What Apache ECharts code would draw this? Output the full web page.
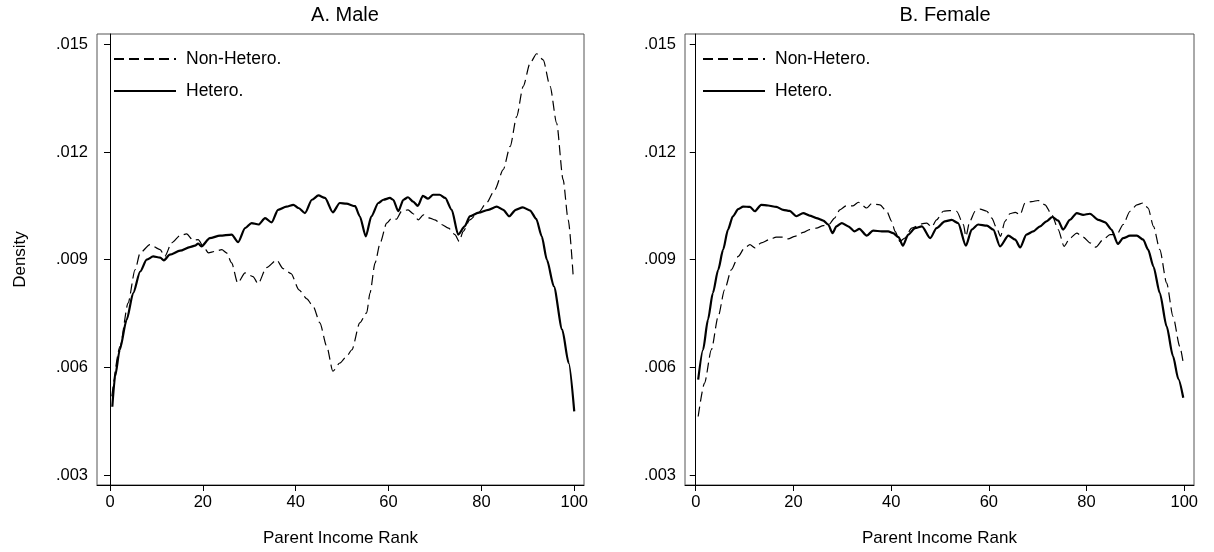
<!DOCTYPE html>
<html>
<head>
<meta charset="utf-8">
<script src="https://cdn.jsdelivr.net/npm/echarts@6/dist/echarts.min.js"></script>
<style>
html,body{margin:0;padding:0;background:#fff;}
#chart{width:1214px;height:552px;}
</style>
</head>
<body>
<div id="chart"></div>
<script>
// ---- data ----
const panelTitles = ['A. Male', 'B. Female'];
const seriesNames = ['Non-Hetero.', 'Hetero.'];
const xTicks = [0, 20, 40, 60, 80, 100];
const yTicks = [0.003, 0.006, 0.009, 0.012, 0.015];

const maleHeteroX = [0.5,1.1,2.1,3.6,5.0,6.5,7.9,9.3,10.8,11.6,12.9,15.1,17.2,18.3,19.0,19.7,21.5,23.7,26.2,27.6,29.1,30.5,32.0,33.4,34.8,36.2,38.0,39.5,40.6,42.0,43.5,44.9,46.3,48.0,49.5,50.9,52.8,53.8,55.1,56.3,57.8,58.9,60.3,61.0,62.1,63.2,64.2,65.3,66.3,67.4,68.5,69.6,71.0,72.2,73.6,75.0,76.4,77.5,79.4,81.5,83.3,84.7,86.0,87.4,88.9,90.5,91.8,93.0,94.1,95.6,97.4,98.8,100];
const maleHeteroY = [0.0049,0.00575,0.00649,0.00733,0.00807,0.00867,0.0090,0.00909,0.00906,0.00898,0.00914,0.00925,0.00935,0.00939,0.00945,0.00937,0.00960,0.00967,0.00970,0.00949,0.00988,0.01002,0.00998,0.01016,0.01004,0.01039,0.01048,0.01053,0.01044,0.01030,0.01067,0.01079,0.01072,0.01032,0.01058,0.01056,0.01049,0.01021,0.00965,0.01021,0.01058,0.01067,0.01072,0.01067,0.01035,0.01067,0.01074,0.01062,0.01050,0.01078,0.01070,0.01081,0.01081,0.01072,0.01039,0.00970,0.00993,0.01021,0.01031,0.01039,0.01048,0.01039,0.01021,0.01039,0.01046,0.01037,0.01014,0.00965,0.0090,0.00826,0.00705,0.00612,0.00477];

const maleNonX = [0.4,2.15,3.9,5.4,6.5,8.6,10.8,11.8,13.3,15.1,16.5,17.9,19.0,20.1,21.2,22.6,24.1,25.1,26.2,27.5,29.1,30.8,31.9,33.7,35.9,37.3,39.0,40.7,42.4,43.8,45.2,46.7,48.0,49.5,51.0,52.1,53.8,55.3,56.0,57.1,58.2,59.6,60.7,61.7,62.8,64.2,65.3,66.4,67.5,68.9,70.0,71.4,72.9,74.3,75.2,76.1,77.5,79.3,81.1,82.9,84.7,86.2,87.6,89.0,90.5,91.9,93.3,94.8,96.2,97.6,98.7,99.8];
const maleNonY = [0.00519,0.00658,0.00779,0.00872,0.00919,0.00942,0.00928,0.00909,0.00947,0.00967,0.00972,0.00954,0.00956,0.00937,0.00919,0.00923,0.00928,0.00919,0.00891,0.00835,0.00863,0.00853,0.00833,0.00878,0.00899,0.00875,0.00861,0.00816,0.00791,0.00769,0.00724,0.00658,0.00589,0.00612,0.00631,0.00649,0.00724,0.00752,0.00807,0.00891,0.00947,0.01002,0.01016,0.01013,0.01035,0.01039,0.01028,0.01011,0.01025,0.01016,0.01011,0.00998,0.00988,0.00970,0.00951,0.00979,0.01011,0.01030,0.01058,0.01095,0.01151,0.01216,0.01299,0.01383,0.01448,0.01474,0.01457,0.01383,0.01281,0.01123,0.01011,0.00849];

const femaleHeteroX = [0.5,1.5,2.5,3.5,4.6,5.6,6.6,7.6,8.7,9.7,11.1,12.1,13.4,14.8,16.5,17.9,19.2,20.6,22.0,23.3,24.7,26.1,27.1,28.0,28.8,29.9,31.2,32.5,33.5,35.0,36.3,38.1,39.4,40.4,41.5,42.4,43.5,44.9,46.3,48.0,49.3,51.0,52.4,53.7,55.3,56.5,57.8,59.6,60.9,62.3,64.0,65.4,66.4,67.7,69.1,70.5,71.8,73.0,74.2,75.2,76.6,78.0,79.3,80.7,82.4,83.8,85.1,86.4,87.5,88.9,90.3,91.6,92.6,93.7,95.0,96.4,97.7,98.8,99.8];
const femaleHeteroY = [0.00566,0.00649,0.00733,0.00807,0.00872,0.00928,0.00984,0.01021,0.01041,0.01048,0.01047,0.01035,0.01053,0.01051,0.01047,0.01039,0.01036,0.01021,0.01030,0.01023,0.01016,0.01009,0.00998,0.00974,0.00993,0.01002,0.00993,0.00979,0.00986,0.00967,0.00981,0.00979,0.00979,0.00974,0.00963,0.00939,0.00970,0.00988,0.00993,0.00960,0.00988,0.01007,0.01011,0.01002,0.00939,0.00984,0.00998,0.00995,0.00984,0.00937,0.00967,0.00956,0.00934,0.00970,0.00979,0.00993,0.01007,0.01019,0.01009,0.00984,0.01011,0.01030,0.01025,0.01028,0.01011,0.01004,0.00984,0.00944,0.00960,0.00967,0.00967,0.00956,0.00928,0.00881,0.00807,0.00714,0.00631,0.00567,0.00515];

const femaleNonX = [0.5,1.8,3.2,4.6,5.9,7.3,8.7,10.0,11.1,12.1,13.4,15.1,16.5,17.9,18.9,20.3,22.0,23.3,24.7,26.1,27.4,28.4,29.5,30.8,32.2,33.3,35.0,36.0,37.7,39.1,40.1,40.8,41.8,42.8,44.2,46.3,47.3,48.3,49.3,50.7,52.0,53.4,54.8,55.3,56.1,57.2,58.2,59.6,60.6,61.6,62.4,63.3,64.3,65.4,66.4,67.4,68.8,70.1,71.5,72.9,74.2,75.4,76.6,78.0,79.3,80.7,81.9,83.4,84.8,86.2,87.5,88.9,90.3,91.6,92.6,93.7,95.0,96.4,97.7,99.1,99.8];
const femaleNonY = [0.00463,0.00556,0.00649,0.00742,0.00816,0.00872,0.00909,0.00933,0.00942,0.00933,0.00947,0.00956,0.00963,0.00963,0.00958,0.00965,0.00976,0.00984,0.00988,0.00995,0.01000,0.01016,0.01039,0.01050,0.01050,0.01060,0.01044,0.01056,0.01053,0.01035,0.01007,0.00979,0.00951,0.00960,0.00988,0.01000,0.01002,0.00991,0.01011,0.01035,0.01037,0.01035,0.00998,0.00965,0.01007,0.01035,0.01041,0.01035,0.01016,0.00988,0.00965,0.01007,0.01028,0.01032,0.01025,0.01058,0.01062,0.01065,0.01053,0.01025,0.00984,0.00937,0.00960,0.00974,0.00963,0.00947,0.00935,0.00956,0.00970,0.00970,0.00998,0.01035,0.01053,0.01058,0.01044,0.00993,0.00928,0.00835,0.00742,0.00658,0.00612];

// ---- build chart ----
const FONT = '"Liberation Sans", Arial, Helvetica, sans-serif';
const zip = (xs, ys) => xs.map((x, i) => [x, ys[i]]);

const grids = [
  {left: 97, top: 34, width: 487, height: 451},
  {left: 685, top: 34, width: 509, height: 451}
];
const xRanges = [[-2.8, 102.1], [-2.2, 102.0]];

function xAxis(i) {
  return {
    type: 'value', gridIndex: i, min: xRanges[i][0], max: xRanges[i][1],
    name: 'Parent Income Rank', nameLocation: 'middle', nameGap: 45,
    nameTextStyle: {fontFamily: FONT, fontSize: 17, color: '#000'},
    axisLine: {show: true, lineStyle: {color: '#000', width: 1}},
    axisTick: {show: true, inside: false, length: 6, lineStyle: {color: '#000'}, customValues: xTicks},
    axisLabel: {show: true, margin: 9, fontFamily: FONT, fontSize: 16.5, color: '#000', customValues: xTicks,
      formatter: v => String(Math.round(v))},
    splitLine: {show: false}
  };
}
function yAxis(i) {
  return {
    type: 'value', gridIndex: i, min: 0.00272, max: 0.01529,
    name: i === 0 ? 'Density' : '', nameLocation: 'middle', nameGap: 68,
    nameTextStyle: {fontFamily: FONT, fontSize: 17, color: '#000'},
    axisLine: {show: true, lineStyle: {color: '#000', width: 1}},
    axisTick: {show: true, inside: false, length: 6, lineStyle: {color: '#000'}, customValues: yTicks},
    axisLabel: {show: true, margin: 9, fontFamily: FONT, fontSize: 16.5, color: '#000', customValues: yTicks,
      formatter: v => v.toFixed(3).replace(/^0/, '')},
    splitLine: {show: false}
  };
}

const dashStyle = {color: '#000', width: 1.2, type: [10, 5]};
const solidStyle = {color: '#000', width: 2.2, type: 'solid'};

function mkSeries(name, data, i, style) {
  return {
    name, type: 'line', xAxisIndex: i, yAxisIndex: i, data,
    showSymbol: false, symbol: 'none', smooth: 0.25, smoothMonotone: 'x',
    lineStyle: style, itemStyle: {color: '#000'}, animation: false, silent: true
  };
}

const option = {
  backgroundColor: '#fff',
  animation: false,
  title: [
    {text: panelTitles[0], left: 340, top: 0, textAlign: 'center',
     textStyle: {fontFamily: FONT, fontSize: 20, fontWeight: 'normal', color: '#000'}},
    {text: panelTitles[1], left: 940, top: 0, textAlign: 'center',
     textStyle: {fontFamily: FONT, fontSize: 20, fontWeight: 'normal', color: '#000'}}
  ],
  legend: [0, 1].map(i => ({
    orient: 'vertical', left: i === 0 ? 108 : 697, top: 45,
    itemWidth: 62, itemHeight: 20, itemGap: 14,
    data: seriesNames.slice(),
    itemStyle: {opacity: 0},
    textStyle: {fontFamily: FONT, fontSize: 17.5, color: '#000', padding: [0, 0, 0, 5]},
    selectedMode: false
  })),
  grid: grids.map(g => Object.assign({show: true, borderColor: '#555', borderWidth: 1, backgroundColor: '#fff', containLabel: false}, g)),
  xAxis: [xAxis(0), xAxis(1)],
  yAxis: [yAxis(0), yAxis(1)],
  series: [
    mkSeries(seriesNames[0], zip(maleNonX, maleNonY), 0, dashStyle),
    mkSeries(seriesNames[1], zip(maleHeteroX, maleHeteroY), 0, solidStyle),
    mkSeries(seriesNames[0], zip(femaleNonX, femaleNonY), 1, dashStyle),
    mkSeries(seriesNames[1], zip(femaleHeteroX, femaleHeteroY), 1, solidStyle)
  ]
};

const chart = echarts.init(document.getElementById('chart'), null, {renderer: 'canvas'});
chart.setOption(option);
</script>
</body>
</html>
